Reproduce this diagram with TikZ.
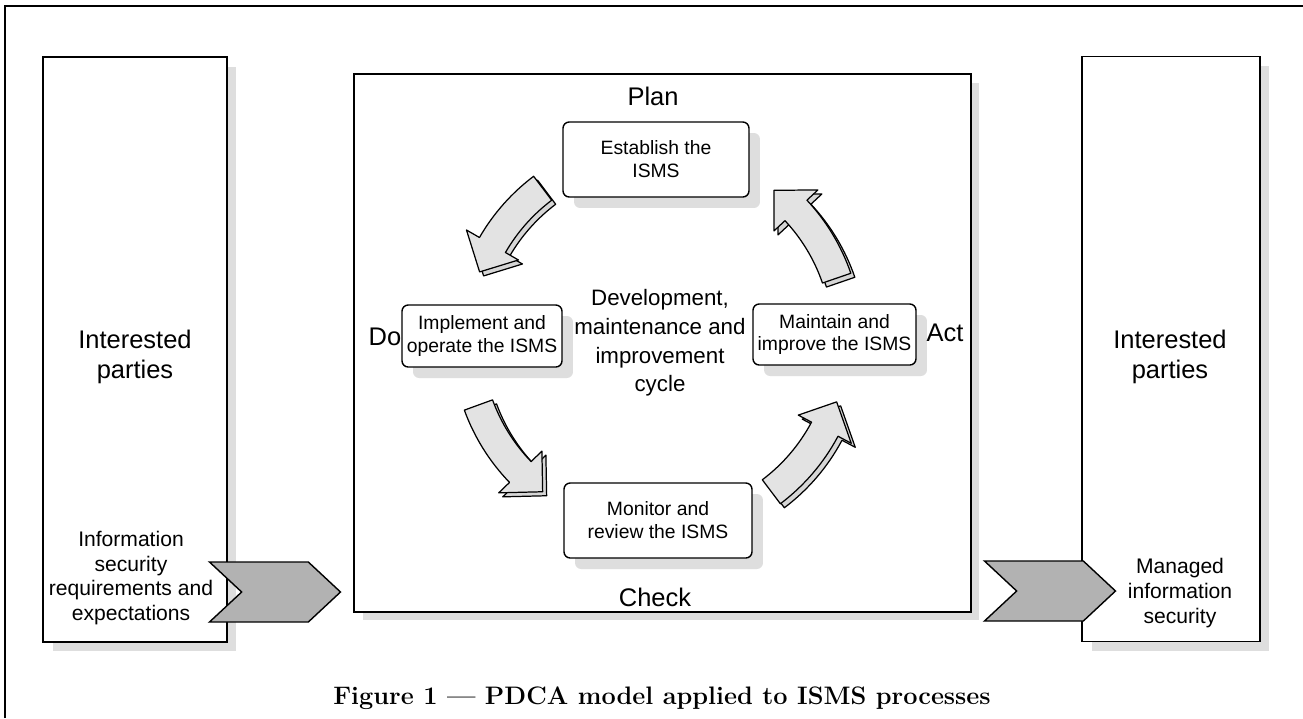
\documentclass[tikz,border=0pt]{standalone}
\usepackage{fontspec}
\newfontfamily\arialfont{Liberation Sans}
\usetikzlibrary{shadows,shapes.symbols}

\begin{document}
\begin{tikzpicture}[x=0.02cm,y=-0.02cm,
    greyshadow/.style={drop shadow={shadow xshift=#1,shadow yshift=-#1,fill=black!13,opacity=1}},
    party/.style={draw,line width=0.9pt,fill=white,minimum width=3.68cm,minimum height=11.7cm,greyshadow=0.19cm},
    stage/.style={draw,line width=0.8pt,rounded corners=3.5pt,fill=white,inner sep=0pt,align=center,
        font=\arialfont\fontsize{11}{13}\selectfont,greyshadow=0.22cm},
    bigtxt/.style={align=center,font=\arialfont\fontsize{14.5}{17}\selectfont},
    smalltxt/.style={align=center,font=\arialfont\fontsize{12}{14}\selectfont},
    chevron/.style={signal,signal from=west,signal to=east,signal pointer angle=86,draw,line width=0.8pt,
        fill=black!30,minimum width=2.62cm,minimum height=1.2cm,inner sep=0pt},
    cycside/.style={draw,line width=0.7pt,fill=black!16,line join=round},
    cyctop/.style={draw,line width=0.7pt,fill=black!11,line join=round}]
    \useasboundingbox (0,0) rectangle (1303,718);
    % frame
    \draw[line width=1.1pt] (5,718) -- (5,6) -- (1303,6);
    % interested parties
    \node[party] (lp) at (135,349.5) {};
    \node[party,minimum width=3.56cm] (rp) at (1171,349) {};
    \node[bigtxt] (lpt) at (135,357) {Interested\\parties};
    \node[bigtxt] (rpt) at (1170,357) {Interested\\parties};
    \node[smalltxt] (req) at (131,578) {Information\\security\\requirements and\\expectations};
    \node[smalltxt] (mis) at (1180,593) {Managed\\information\\security};
    % ISMS box
    \node[draw,line width=0.9pt,fill=white,minimum width=12.34cm,minimum height=10.76cm,greyshadow=0.17cm] (isms) at (662.5,343) {};
    \node[chevron] (in) at (275,592) {};
    \node[chevron] (out) at (1050,591) {};
    % PDCA stages
    \node[stage,minimum width=3.72cm,minimum height=1.5cm] (est) at (656,159.5) {Establish the\\ISMS};
    \node[stage,minimum width=3.2cm,minimum height=1.24cm] (imp) at (482,336) {Implement and\\operate the ISMS};
    \node[stage,minimum width=3.26cm,minimum height=1.22cm] (mai) at (834.5,334.5) {Maintain and\\improve the ISMS};
    \node[stage,minimum width=3.76cm,minimum height=1.5cm] (mon) at (658,520.5) {Monitor and\\review the ISMS};
    \node[bigtxt] (plan) at (653,96) {Plan};
    \node[bigtxt] (do) at (385,337) {Do};
    \node[bigtxt] (act) at (945,333) {Act};
    \node[bigtxt] (check) at (655,597) {Check};
    \node[align=center,font=\arialfont\fontsize{12.7}{16.3}\selectfont] (dev) at (660,343)
        {Development,\\maintenance and\\improvement\\cycle};
    % cycle arrows
    \begin{scope}[shift={(657,340)},y=0.02cm]
    \foreach \sa/\ea in {127/159, 200/233, 307/341, 19/52} {
        \pgfmathsetmacro\hb{\ea-9}
        \draw[cycside,shift={(4,-4)}] (\sa:175) arc[start angle=\sa,end angle=\hb,radius=175] -- (\hb:160)
            -- (\ea:190) -- (\hb:220) -- (\hb:205) arc[start angle=\hb,end angle=\sa,radius=205] -- cycle;
        \draw[cyctop] (\sa:175) arc[start angle=\sa,end angle=\hb,radius=175] -- (\hb:160)
            -- (\ea:190) -- (\hb:220) -- (\hb:205) arc[start angle=\hb,end angle=\sa,radius=205] -- cycle;
    }
    \end{scope}
    % caption
    \node[font=\fontsize{14.4}{17}\selectfont\bfseries] (cap) at (662,698) {Figure 1 — PDCA model applied to ISMS processes};
\end{tikzpicture}
\end{document}
